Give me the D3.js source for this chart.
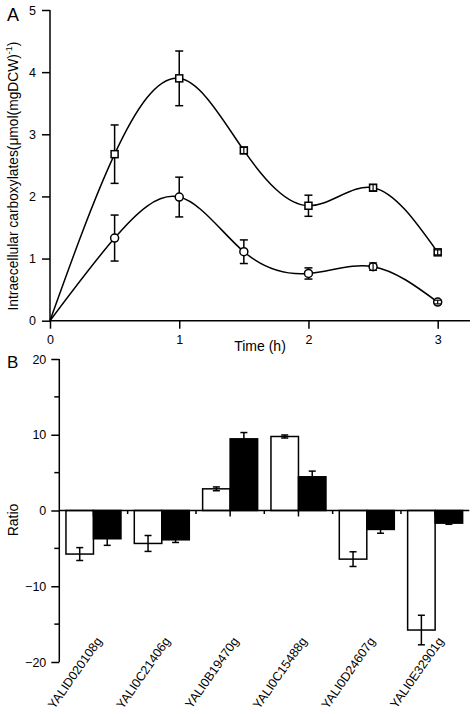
<!DOCTYPE html>
<html><head><meta charset="utf-8">
<script src="https://cdn.jsdelivr.net/npm/d3@7"></script>
<style>
html,body{margin:0;padding:0;background:#fff;}
svg{display:block;font-family:"Liberation Sans",Arial,sans-serif;}
</style></head>
<body>
<svg id="chart" width="474" height="714"></svg>
<script>
// ---------- Panel A data ----------
const timeHours = [0, 0.5, 1, 1.5, 2, 2.5, 3];
const squareValues = [0, 2.68, 3.90, 2.74, 1.85, 2.14, 1.10];
const squareErrors = [0, 0.47, 0.44, 0.05, 0.17, 0.05, 0.04];
const circleValues = [0, 1.33, 1.99, 1.11, 0.76, 0.87, 0.30];
const circleErrors = [0, 0.37, 0.32, 0.19, 0.09, 0.06, 0.03];
const xTicksA = [0, 1, 2, 3];
const yTicksA = [0, 1, 2, 3, 4, 5];

// ---------- Panel B data ----------
const genes = ["YALID020108g", "YALI0C21406g", "YALI0B19470g", "YALI0C15488g", "YALI0D24607g", "YALI0E32901g"];
const whiteValues = [-5.75, -4.35, 2.86, 9.77, -6.42, -15.78];
const whiteErrors = [0.85, 1.05, 0.25, 0.20, 0.97, 1.95];
const blackValues = [-3.73, -3.87, 9.46, 4.45, -2.50, -1.67];
const blackErrors = [0.87, 0.35, 0.83, 0.75, 0.50, 0.15];
const yTicksB = [-20, -10, 0, 10, 20];
const yMinorTicksB = [-15, -5, 5, 15];

const svg = d3.select("#chart");
svg.append("rect").attr("width", 474).attr("height", 714).attr("fill", "#fff");
const SW = 1.5;

// ================= Panel A =================
const xA = d3.scaleLinear().domain([0, 3.25]).range([50, 470]);
const yA = d3.scaleLinear().domain([0, 5]).range([320.7, 10]);
const gA = svg.append("g");

const axA_y = gA.append("g").attr("transform", `translate(${xA(0)},0)`)
  .call(d3.axisLeft(yA).tickValues(yTicksA).tickSize(8).tickPadding(6).tickFormat(d3.format("d")));
const axA_x = gA.append("g").attr("transform", `translate(0,${yA(0)})`)
  .call(d3.axisBottom(xA).tickValues(xTicksA).tickSize(8).tickPadding(6).tickFormat(d3.format("d")));
[axA_y, axA_x].forEach(ax => {
  ax.select(".domain").remove();
  ax.selectAll(".tick line").attr("stroke-width", SW);
  ax.selectAll("text").attr("font-size", 12.5).attr("fill", "#000").attr("font-family", "Liberation Sans, Arial, sans-serif");
});
gA.append("line").attr("x1", xA(0)).attr("x2", xA(3.25)).attr("y1", yA(0)).attr("y2", yA(0)).attr("stroke", "#000").attr("stroke-width", SW);
gA.append("line").attr("x1", xA(0)).attr("x2", xA(0)).attr("y1", yA(0)).attr("y2", yA(5)).attr("stroke", "#000").attr("stroke-width", SW);

const lineGen = d3.line().x(d => xA(d[0])).y(d => yA(d[1])).curve(d3.curveNatural);
function drawSeries(values, errors, shape) {
  const pts = timeHours.map((t, i) => [t, values[i], errors[i]]);
  gA.append("path").attr("d", lineGen(pts)).attr("fill", "none").attr("stroke", "#000").attr("stroke-width", SW);
  const r = shape === "square" ? 3.5 : 4;
  pts.forEach(p => {
    if (p[0] === 0) return;
    const cx = xA(p[0]), cy = yA(p[1]);
    const ePx = Math.abs(yA(p[1] + p[2]) - cy);
    if (shape === "square") {
      gA.append("rect").attr("x", cx - r).attr("y", cy - r).attr("width", 2 * r).attr("height", 2 * r)
        .attr("fill", "#fff").attr("stroke", "#000").attr("stroke-width", SW);
    } else {
      gA.append("circle").attr("cx", cx).attr("cy", cy).attr("r", r)
        .attr("fill", "#fff").attr("stroke", "#000").attr("stroke-width", SW);
    }
    const cap = 4;
    if (ePx > r) {
      gA.append("line").attr("x1", cx).attr("x2", cx).attr("y1", cy - ePx).attr("y2", cy - r).attr("stroke", "#000").attr("stroke-width", SW);
      gA.append("line").attr("x1", cx).attr("x2", cx).attr("y1", cy + r).attr("y2", cy + ePx).attr("stroke", "#000").attr("stroke-width", SW);
    } else {
      gA.append("line").attr("x1", cx).attr("x2", cx).attr("y1", cy - ePx).attr("y2", cy + ePx).attr("stroke", "#000").attr("stroke-width", 1.2);
    }
    [cy - ePx, cy + ePx].forEach(yy => {
      gA.append("line").attr("x1", cx - cap).attr("x2", cx + cap).attr("y1", yy).attr("y2", yy).attr("stroke", "#000").attr("stroke-width", ePx > r ? SW : 1.2);
    });
  });
}
drawSeries(squareValues, squareErrors, "square");
drawSeries(circleValues, circleErrors, "circle");

gA.append("text").attr("x", 260).attr("y", 351).attr("text-anchor", "middle").attr("font-size", 14).text("Time (h)");
const yLabA = gA.append("text").attr("transform", "translate(18,176) rotate(-90)").attr("text-anchor", "middle").attr("font-size", 13.8);
yLabA.append("tspan").text("Intraecellular carboxylates(μmol(mgDCW)");
yLabA.append("tspan").attr("font-size", 9).attr("dy", -6).text("-1");
yLabA.append("tspan").attr("dy", 6).text(")");
svg.append("text").attr("x", 7).attr("y", 21).attr("font-size", 18).text("A");

// ================= Panel B =================
const xB = d3.scaleBand().domain(genes).range([59.3, 469.3]).paddingInner(0.195).paddingOuter(0.0975);
const yB = d3.scaleLinear().domain([-20, 20]).range([662, 359]);
const gB = svg.append("g");
const bw = xB.bandwidth() / 2;

const axB_y = gB.append("g").attr("transform", `translate(${xB.range()[0]},0)`)
  .call(d3.axisLeft(yB).tickValues(yTicksB).tickSize(8).tickPadding(5).tickFormat(d3.format("d")));
axB_y.select(".domain").remove();
axB_y.selectAll(".tick line").attr("stroke-width", SW);
axB_y.selectAll("text").attr("font-size", 12.5).attr("fill", "#000").attr("font-family", "Liberation Sans, Arial, sans-serif");
yMinorTicksB.forEach(v => {
  gB.append("line").attr("x1", xB.range()[0] - 5).attr("x2", xB.range()[0]).attr("y1", yB(v)).attr("y2", yB(v)).attr("stroke", "#000").attr("stroke-width", SW);
});

genes.forEach((g, i) => {
  const x0 = xB(g);
  [[whiteValues[i], "#fff", x0], [blackValues[i], "#000", x0 + bw]].forEach(([v, fill, bx]) => {
    gB.append("rect").attr("x", bx).attr("width", bw)
      .attr("y", Math.min(yB(v), yB(0))).attr("height", Math.abs(yB(v) - yB(0)))
      .attr("fill", fill).attr("stroke", "#000").attr("stroke-width", SW);
  });
});
genes.forEach((g, i) => {
  const x0 = xB(g);
  [[whiteValues[i], whiteErrors[i], x0 + bw / 2], [blackValues[i], blackErrors[i], x0 + bw * 1.5]].forEach(([v, e, cx]) => {
    const y1 = yB(v + e), y2 = yB(v - e);
    gB.append("line").attr("x1", cx).attr("x2", cx).attr("y1", y1).attr("y2", y2).attr("stroke", "#000").attr("stroke-width", SW);
    [y1, y2].forEach(yy => gB.append("line").attr("x1", cx - 3.5).attr("x2", cx + 3.5).attr("y1", yy).attr("y2", yy).attr("stroke", "#000").attr("stroke-width", SW));
  });
});

gB.append("line").attr("x1", xB.range()[0]).attr("x2", xB.range()[1]).attr("y1", yB(0)).attr("y2", yB(0)).attr("stroke", "#000").attr("stroke-width", SW);
gB.append("line").attr("x1", xB.range()[0]).attr("x2", xB.range()[0]).attr("y1", yB(20)).attr("y2", yB(-20)).attr("stroke", "#000").attr("stroke-width", SW);
genes.forEach((g, i) => {
  const c = xB(g) + bw;
  gB.append("line").attr("x1", c).attr("x2", c).attr("y1", yB(0)).attr("y2", yB(0) + 6).attr("stroke", "#000").attr("stroke-width", SW);
  if (i < genes.length - 1) {
    const b = (xB(g) + 2 * bw + xB(genes[i + 1])) / 2;
    gB.append("line").attr("x1", b).attr("x2", b).attr("y1", yB(0)).attr("y2", yB(0) + 3.5).attr("stroke", "#000").attr("stroke-width", SW);
  }
});
genes.forEach(g => {
  const c = xB(g) + bw;
  gB.append("text").attr("transform", `translate(${c + 9},${641}) rotate(-55)`)
    .attr("text-anchor", "end").attr("font-size", 12.5).text(g);
});
gB.append("text").attr("transform", "translate(18,520) rotate(-90)").attr("text-anchor", "middle").attr("font-size", 14).text("Ratio");
svg.append("text").attr("x", 7).attr("y", 368).attr("font-size", 17).text("B");
</script>
</body></html>
